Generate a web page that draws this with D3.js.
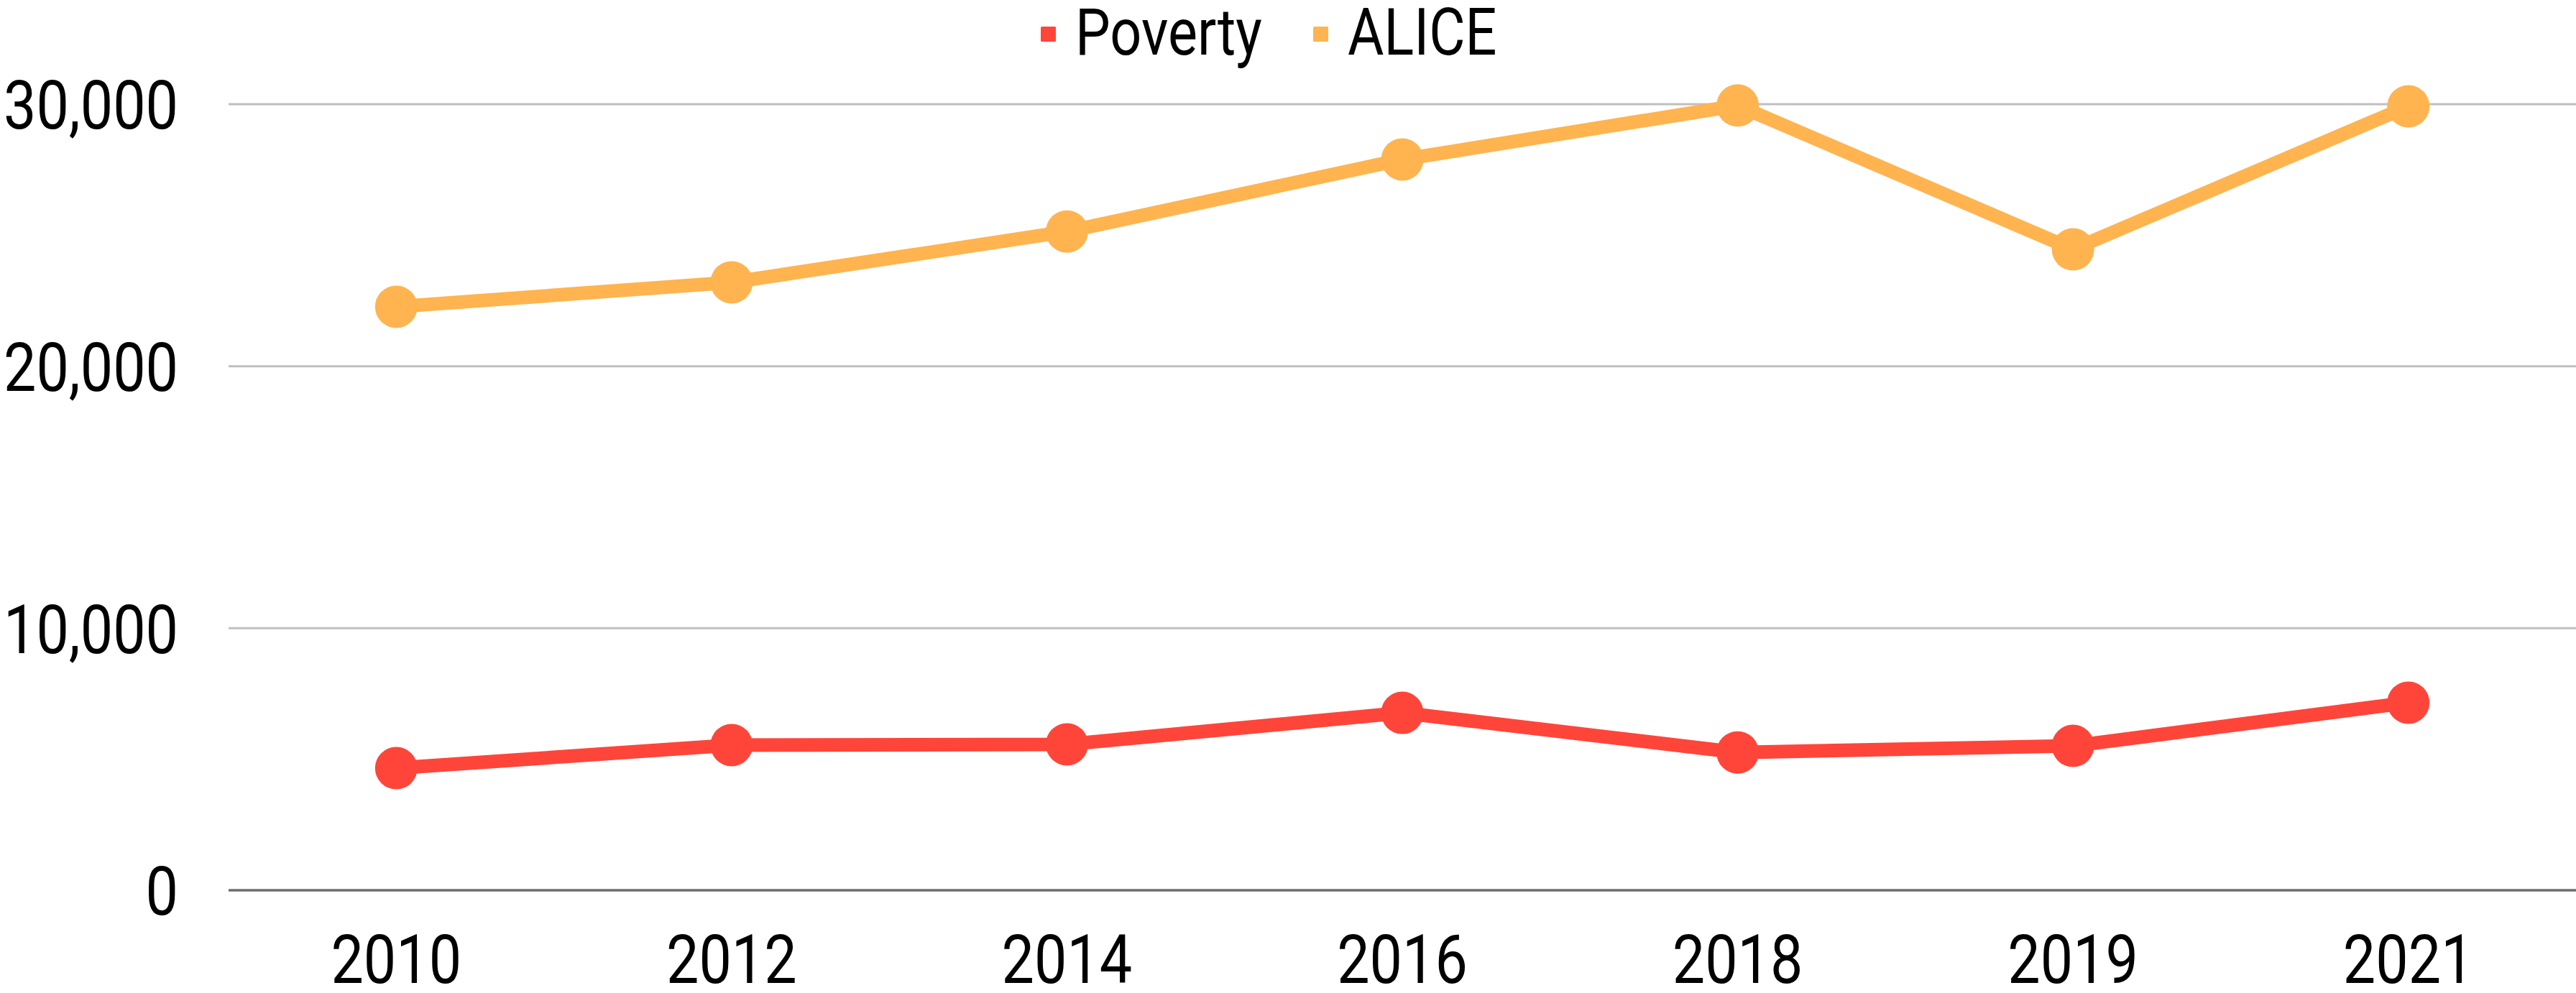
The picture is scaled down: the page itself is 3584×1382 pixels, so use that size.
<!DOCTYPE html>
<html lang="en">
<head>
<meta charset="utf-8">
<title>Poverty and ALICE households</title>
<script src="https://d3js.org/d3.v7.min.js"></script>
<style>
    body {
        margin: 0;
        background: #fff;
        font-family: "Roboto", "Noto Sans", sans-serif;
    }
    .grid line { stroke: #bfbfbf; stroke-width: 3; }
    .baseline { stroke: #6d6d6d; stroke-width: 3.5; }
    .lbl { fill: #000; }
</style>
</head>
<body>
<div id="chart"></div>
<script>

// data
var years = ["2010", "2012", "2014", "2016", "2018", "2019", "2021"];
var poverty = [4660, 5540, 5570, 6770, 5260, 5510, 7160];
var alice = [22270, 23200, 25140, 27890, 29950, 24460, 29920];
var yTicks = [0, 10000, 20000, 30000];

var seriesNames = ["Poverty", "ALICE"];
var colors = ["#ff453a", "#ffb450"];

var width = 3584, height = 1382;
var margin = {top: 145, right: 0, bottom: 143, left: 318};
var squeeze = 0.86;   // narrow the font to look like a condensed face

var svg = d3.select("#chart").append("svg")
    .attr("width", width)
    .attr("height", height);

var x = d3.scaleBand()
    .domain(years)
    .range([margin.left, width - margin.right]);

var y = d3.scaleLinear()
    .domain([0, 30000])
    .range([height - margin.bottom, margin.top]);

// gridlines
svg.append("g")
    .attr("class", "grid")
    .selectAll("line")
    .data(yTicks.filter(function(d) { return d > 0; }))
    .enter().append("line")
    .attr("x1", margin.left)
    .attr("x2", width - margin.right)
    .attr("y1", function(d) { return y(d); })
    .attr("y2", function(d) { return y(d); });

// y axis labels
var yAxis = svg.append("g")
    .attr("transform", "translate(248,0)")
    .call(d3.axisLeft(y).tickValues(yTicks).tickSize(0).tickPadding(0).tickFormat(d3.format(",")));
yAxis.select(".domain").remove();
yAxis.selectAll("text")
    .attr("class", "lbl")
    .attr("x", 0)
    .attr("dy", "0.36em")
    .attr("transform", "scale(" + squeeze + ",1)")
    .style("font-size", "94px")
    .style("font-family", "Roboto, sans-serif");

// x axis
var xAxis = svg.append("g")
    .attr("transform", "translate(0," + y(0) + ")")
    .call(d3.axisBottom(x).tickSize(0).tickPadding(0));
xAxis.select(".domain").remove();
xAxis.selectAll("text")
    .attr("class", "lbl")
    .attr("y", 129)
    .attr("dy", 0)
    .attr("transform", "scale(" + squeeze + ",1)")
    .style("font-size", "94px")
    .style("font-family", "Roboto, sans-serif");

svg.append("line")
    .attr("class", "baseline")
    .attr("x1", margin.left)
    .attr("x2", width - margin.right)
    .attr("y1", y(0))
    .attr("y2", y(0));

// lines and markers
var line = d3.line()
    .x(function(d, i) { return x(years[i]) + x.bandwidth() / 2; })
    .y(function(d) { return y(d); });

[poverty, alice].forEach(function(vals, k) {
    var g = svg.append("g");
    g.append("path")
        .datum(vals)
        .attr("fill", "none")
        .attr("stroke", colors[k])
        .attr("stroke-width", 19)
        .attr("d", line);
    g.selectAll("circle")
        .data(vals)
        .enter().append("circle")
        .attr("cx", function(d, i) { return x(years[i]) + x.bandwidth() / 2; })
        .attr("cy", function(d) { return y(d); })
        .attr("r", 29.5)
        .attr("fill", colors[k]);
});

// legend
var legendX = [1448, 1827];
var legend = svg.append("g");
seriesNames.forEach(function(name, k) {
    legend.append("rect")
        .attr("x", legendX[k])
        .attr("y", 37)
        .attr("width", 21)
        .attr("height", 21)
        .attr("rx", 1.5)
        .attr("fill", colors[k]);
    legend.append("text")
        .attr("class", "lbl")
        .attr("transform", "translate(" + (legendX[k] + 48) + ",76) scale(" + squeeze + ",1)")
        .style("font-size", "90px")
        .style("font-family", "Roboto, sans-serif")
        .text(name);
});

</script>
</body>
</html>
